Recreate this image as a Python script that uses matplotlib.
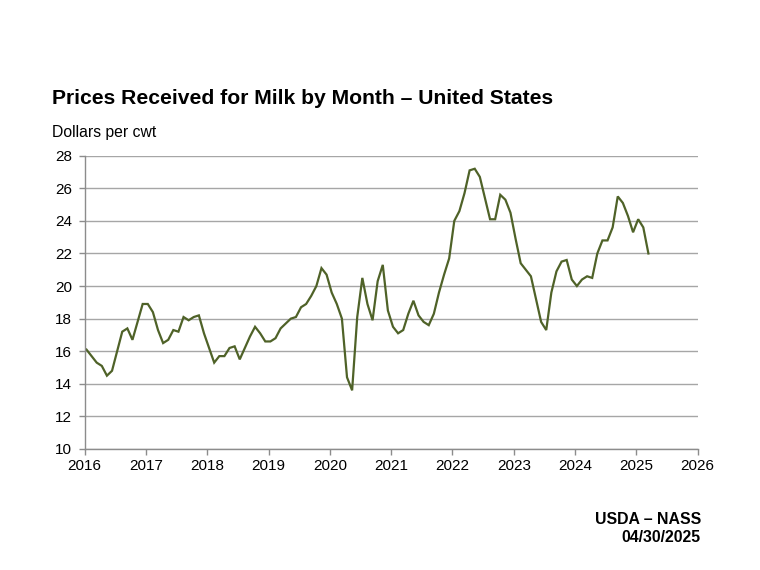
import matplotlib
matplotlib.use("Agg")
import matplotlib.pyplot as plt
import numpy as np

plt.rcParams['font.family'] = ['Liberation Sans', 'DejaVu Sans']

start_year = 2016
prices = [
    # 2016
    16.1, 15.7, 15.3, 15.1, 14.5, 14.8, 16.0, 17.2, 17.4, 16.7, 17.8, 18.9,
    # 2017
    18.9, 18.4, 17.3, 16.5, 16.7, 17.3, 17.2, 18.1, 17.9, 18.1, 18.2, 17.1,
    # 2018
    16.2, 15.3, 15.7, 15.7, 16.2, 16.3, 15.5, 16.2, 16.9, 17.5, 17.1, 16.6,
    # 2019
    16.6, 16.8, 17.4, 17.7, 18.0, 18.1, 18.7, 18.9, 19.4, 20.0, 21.1, 20.7,
    # 2020
    19.6, 18.9, 18.0, 14.4, 13.6, 18.1, 20.5, 18.9, 17.9, 20.3, 21.3, 18.5,
    # 2021
    17.5, 17.1, 17.3, 18.3, 19.1, 18.2, 17.8, 17.6, 18.3, 19.6, 20.7, 21.7,
    # 2022
    24.0, 24.6, 25.7, 27.1, 27.2, 26.7, 25.4, 24.1, 24.1, 25.6, 25.3, 24.5,
    # 2023
    22.9, 21.4, 21.0, 20.6, 19.2, 17.8, 17.3, 19.6, 20.9, 21.5, 21.6, 20.4,
    # 2024
    20.0, 20.4, 20.6, 20.5, 22.0, 22.8, 22.8, 23.6, 25.5, 25.1, 24.3, 23.3,
    # 2025
    24.1, 23.6, 22.0,
]
x_ticks = list(range(2016, 2027))
y_ticks = list(range(10, 29, 2))

title = "Prices Received for Milk by Month \u2013 United States"
ylabel = "Dollars per cwt"
source = "USDA \u2013 NASS"
date_txt = "04/30/2025"

W, H = 760, 570
fig = plt.figure(figsize=(W / 100, H / 100), dpi=100)
left_px, right_px, top_px, bot_px = 84.7, 697.7, 155.7, 449.0
ax = fig.add_axes([left_px / W, 1 - bot_px / H, (right_px - left_px) / W, (bot_px - top_px) / H])

months = np.arange(len(prices))
xs = start_year + (months + 0.35) / 12.0
ax.plot(xs, prices, color='#4F6228', lw=1.6, solid_joinstyle='miter')

ax.set_xlim(2016, 2026)
ax.set_ylim(10, 28)
ax.set_xticks(x_ticks)
ax.set_yticks(y_ticks)
ax.set_xticklabels([str(v) for v in x_ticks])
ax.set_yticklabels([str(v) for v in y_ticks])
gcol = '#A6A6A6'
ax.grid(axis='y', color=gcol, lw=1.0)
ax.set_axisbelow(True)
for s in ['top', 'right']:
    ax.spines[s].set_visible(False)
for s in ['left', 'bottom']:
    ax.spines[s].set_color('#8C8C8C')
    ax.spines[s].set_linewidth(1.0)
ax.tick_params(axis='both', colors='#8C8C8C', labelcolor='black', labelsize=11,
               direction='out', length=4, width=1)
ax.tick_params(axis='y', pad=5)
ax.tick_params(axis='x', pad=3)

fig.text(52 / W, 1 - 104 / H, title, fontsize=15.2, fontweight='bold', ha='left', va='baseline')
fig.text(52 / W, 1 - 137.3 / H, ylabel, fontsize=11.3, ha='left', va='baseline')
fig.text(701 / W, 1 - 524 / H, source, fontsize=11.4, fontweight='bold', ha='right', va='baseline')
fig.text(701 / W, 1 - 541.7 / H, date_txt, fontsize=11.4, fontweight='bold', ha='right', va='baseline')

fig.savefig('out.png', dpi=100, facecolor='white')
